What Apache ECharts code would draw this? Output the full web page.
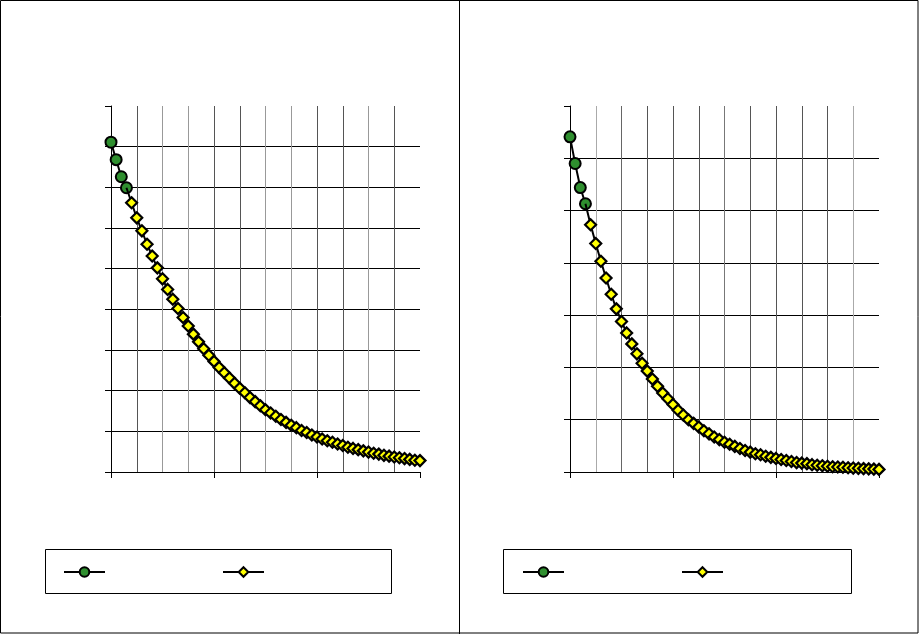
<!DOCTYPE html>
<html><head><meta charset="utf-8">
<script src="https://cdn.jsdelivr.net/npm/echarts@6/dist/echarts.min.js"></script>
<style>html,body{margin:0;padding:0;background:#fff}#c{width:919px;height:634px}</style>
</head><body><div id="c"></div>
<script>
const xSteps = [0,1,2,3,4,5,6,7,8,9,10,11,12,13,14,15,16,17,18,19,20,21,22,23,24,25,26,27,28,29,30,31,32,33,34,35,36,37,38,39,40,41,42,43,44,45,46,47,48,49,50,51,52,53,54,55,56,57,58,59,60];
const leftGreen = [8.11, 7.68, 7.26, 6.99];
const leftYellow = [6.62,6.25,5.93,5.60,5.31,5.02,4.75,4.49,4.25,4.02,3.80,3.59,3.39,3.20,3.03,2.87,2.72,2.57,2.44,2.31,2.18,2.06,1.95,1.83,1.73,1.63,1.53,1.45,1.37,1.29,1.22,1.15,1.09,1.02,0.97,0.91,0.86,0.81,0.77,0.73,0.69,0.65,0.61,0.58,0.55,0.52,0.49,0.46,0.44,0.41,0.39,0.37,0.35,0.33,0.31,0.29,0.28];
const rightGreen = [6.41, 5.90, 5.44, 5.13];
const rightYellow = [4.73,4.37,4.03,3.71,3.40,3.12,2.88,2.66,2.45,2.26,2.08,1.93,1.78,1.64,1.51,1.40,1.29,1.18,1.09,1.00,0.93,0.86,0.79,0.73,0.67,0.62,0.57,0.53,0.49,0.45,0.41,0.38,0.35,0.33,0.30,0.28,0.26,0.24,0.22,0.20,0.18,0.17,0.16,0.14,0.13,0.12,0.11,0.10,0.095,0.09,0.08,0.075,0.07,0.065,0.06,0.055,0.05];
const leftYMax = 9, rightYMax = 7, xMax = 60;

const GREEN = '#2f8f2f', YELLOW = '#ffff00';
const chart = echarts.init(document.getElementById('c'), null, {renderer:'canvas'});

const vColsLeft = ['#000','#555','#999','#999','#555','#555','#999','#999','#555','#555','#999','#555','#000'];
const vColsRight = ['#000','#aaa','#666','#555','#555','#555','#777','#555','#555','#555','#555','#aaa','#000'];

function gridAxes(gi, vCols, yMax) {
  const xs = [
    {gridIndex: gi, type:'value', position:'top', min:0, max:xMax, interval:5,
     axisLine:{show:false}, axisTick:{show:false}, axisLabel:{show:false},
     splitLine:{show:true, showMaxLine:false, lineStyle:{color:vCols, width:1}}},
    {gridIndex: gi, type:'value', position:'bottom', min:0, max:xMax, interval:20,
     axisLine:{show:true, onZero:false, lineStyle:{color:'#000', width:1}},
     axisTick:{show:true, length:6, lineStyle:{color:'#000', width:1}},
     axisLabel:{show:false}, splitLine:{show:false}}
  ];
  const y = {gridIndex: gi, type:'value', min:0, max:yMax, interval:1,
     axisLine:{show:true, lineStyle:{color:'#000', width:1}},
     axisTick:{show:true, length:6, lineStyle:{color:'#000', width:1}},
     axisLabel:{show:false},
     splitLine:{show:true, showMaxLine:false, lineStyle:{color:'#000', width:1}}};
  return {xs, y};
}
const a0 = gridAxes(0, vColsLeft, leftYMax);
const a1 = gridAxes(1, vColsRight, rightYMax);

function mkSeries(name, xi, yi, green, yellow, which) {
  if (which === 'g') {
    return {name, type:'line', xAxisIndex:xi, yAxisIndex:yi, z:3,
      data: green.map((v,i)=>[xSteps[i], v]),
      symbol:'circle', symbolSize:11,
      itemStyle:{color:GREEN, borderColor:'#000', borderWidth:2},
      lineStyle:{color:'#000', width:2}, animation:false};
  }
  const last = green.length - 1;
  const data = [{value:[xSteps[last], green[last]], symbol:'none'}]
    .concat(yellow.map((v,i)=>[xSteps[i+green.length], v]));
  return {name, type:'line', xAxisIndex:xi, yAxisIndex:yi, z:4,
    data, symbol:'diamond', symbolSize:11,
    itemStyle:{color:YELLOW, borderColor:'#000', borderWidth:2.2},
    lineStyle:{color:'#000', width:2}, animation:false};
}

function leg(name, left) {
  return {data:[name], left, top:566, itemWidth:41, itemHeight:12, padding:0,
    formatter:()=>'', selectedMode:false, textStyle:{fontSize:1}};
}

chart.setOption({
  animation:false,
  backgroundColor:'#fff',
  grid:[
    {left:111, top:106, width:309, height:366},
    {left:570, top:106, width:309, height:366}
  ],
  xAxis:[a0.xs[0], a0.xs[1], a1.xs[0], a1.xs[1]],
  yAxis:[a0.y, a1.y],
  legend:[leg('s1a', 63), leg('s1b', 222), leg('s2a', 522), leg('s2b', 681)],
  series:[
    mkSeries('s1a', 0, 0, leftGreen, leftYellow, 'g'),
    mkSeries('s1b', 0, 0, leftGreen, leftYellow, 'y'),
    mkSeries('s2a', 2, 1, rightGreen, rightYellow, 'g'),
    mkSeries('s2b', 2, 1, rightGreen, rightYellow, 'y')
  ],
  graphic:[
    {type:'rect', shape:{x:0.5, y:0.5, width:917.5, height:632.5}, style:{fill:null, stroke:'#000', lineWidth:1}, silent:true},
    {type:'line', shape:{x1:459.5, y1:0, x2:459.5, y2:634}, style:{stroke:'#000', lineWidth:1}, silent:true},
    {type:'rect', shape:{x:45.5, y:549.5, width:346, height:44}, style:{fill:null, stroke:'#000', lineWidth:1}, silent:true},
    {type:'rect', shape:{x:503.5, y:549.5, width:348, height:44}, style:{fill:null, stroke:'#000', lineWidth:1}, silent:true}
  ]
});
</script>
</body></html>
